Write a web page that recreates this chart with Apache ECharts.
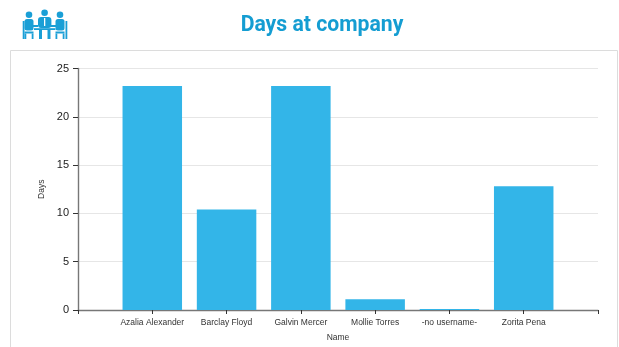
<!DOCTYPE html>
<html>
<head>
<meta charset="utf-8">
<style>html,body{margin:0;padding:0;background:#fff}#chart{width:619px;height:347px}</style>
<script src="https://cdn.jsdelivr.net/npm/echarts@6/dist/echarts.min.js"></script>
</head>
<body>
<div id="chart"></div>
<script>
const names = ['', 'Azalia Alexander', 'Barclay Floyd', 'Galvin Mercer', 'Mollie Torres', '-no username-', 'Zorita Pena', ''];
const days = [null, 23.2, 10.4, 23.2, 1.1, 0.1, 12.8, null];
const yTicks = { min: 0, max: 25, interval: 5 };

const ICON = '#1a9fd6';
const AXIS = '#777777';
const BAR = '#33b5e8';

function box(x, y, width, height, r, fill) {
  return { type: 'rect', shape: { x, y, width, height, r: r || 0 }, style: { fill: fill || ICON } };
}
function head(cx, cy) {
  return { type: 'circle', shape: { cx, cy, r: 3.3 }, style: { fill: ICON } };
}
// Seated figure in profile: chair back on the outer side, forearm towards the table
function sideFigure(cx, outerX, armX) {
  return [
    head(cx, 14.7),
    box(cx - 4.5, 19, 9, 11.5, 2.5),
    box(outerX, 21, 1.8, 18),
    box(armX, 25, 7, 2),
    box(cx - 4.5, 31.5, 9, 2),
    box(cx - 4.5, 33.5, 1.8, 5.5),
    box(cx + 2.7, 33.5, 1.8, 5.5)
  ];
}
const icon = [
  ...sideFigure(29, 22.7, 31),
  ...sideFigure(60, 65.5, 51),
  head(44.6, 12.7),
  box(38, 17, 13.4, 11, 3),
  box(44, 18, 1.3, 8, 0, '#ffffff'),
  box(34, 28.2, 21.5, 1.8),
  box(39, 30, 3, 9),
  box(47.5, 30, 3, 9)
];

const chart = echarts.init(document.getElementById('chart'), null, { renderer: 'canvas' });
chart.setOption({
  animation: false,
  backgroundColor: '#fff',
  title: {
    text: 'Days at company',
    left: 317,
    top: 10,
    textAlign: 'center',
    textStyle: { fontFamily: 'Roboto', fontWeight: 'bold', fontSize: 21.2, color: '#149dd2' }
  },
  graphic: [
    { type: 'rect', silent: true, z: -1,
      shape: { x: 10.5, y: 50.5, width: 607, height: 310 },
      style: { fill: '#fff', stroke: '#dcdcdc', lineWidth: 1 } },
    ...icon
  ],
  grid: { left: 78, right: 21, top: 68.5, bottom: 36.5 },
  xAxis: {
    type: 'category',
    data: names,
    boundaryGap: false,
    name: 'Name',
    nameLocation: 'middle',
    nameGap: 23,
    nameTextStyle: { fontFamily: 'Liberation Sans', fontSize: 8.5, color: '#333' },
    axisLine: { lineStyle: { color: AXIS, width: 1.4 } },
    axisTick: { length: 4, lineStyle: { color: '#333' } },
    axisLabel: { interval: 0, margin: 8, fontFamily: 'Liberation Sans', fontSize: 8.5, color: '#333' },
    splitLine: { show: false }
  },
  yAxis: {
    type: 'value',
    min: yTicks.min,
    max: yTicks.max,
    interval: yTicks.interval,
    name: 'Days',
    nameLocation: 'middle',
    nameGap: 30,
    nameRotate: 90,
    nameTextStyle: { fontFamily: 'Liberation Sans', fontSize: 8.5, color: '#333' },
    axisLine: { show: true, lineStyle: { color: AXIS, width: 1.4 } },
    axisTick: { show: true, length: 5, lineStyle: { color: '#333' } },
    axisLabel: { margin: 9, padding: [2, 0, 0, 0], fontFamily: 'Liberation Sans', fontSize: 11, color: '#222' },
    splitLine: { lineStyle: { color: '#e6e6e6', width: 1 } }
  },
  series: [{
    type: 'bar',
    data: days,
    barWidth: 59.5,
    itemStyle: { color: BAR }
  }]
});
</script>
</body>
</html>
